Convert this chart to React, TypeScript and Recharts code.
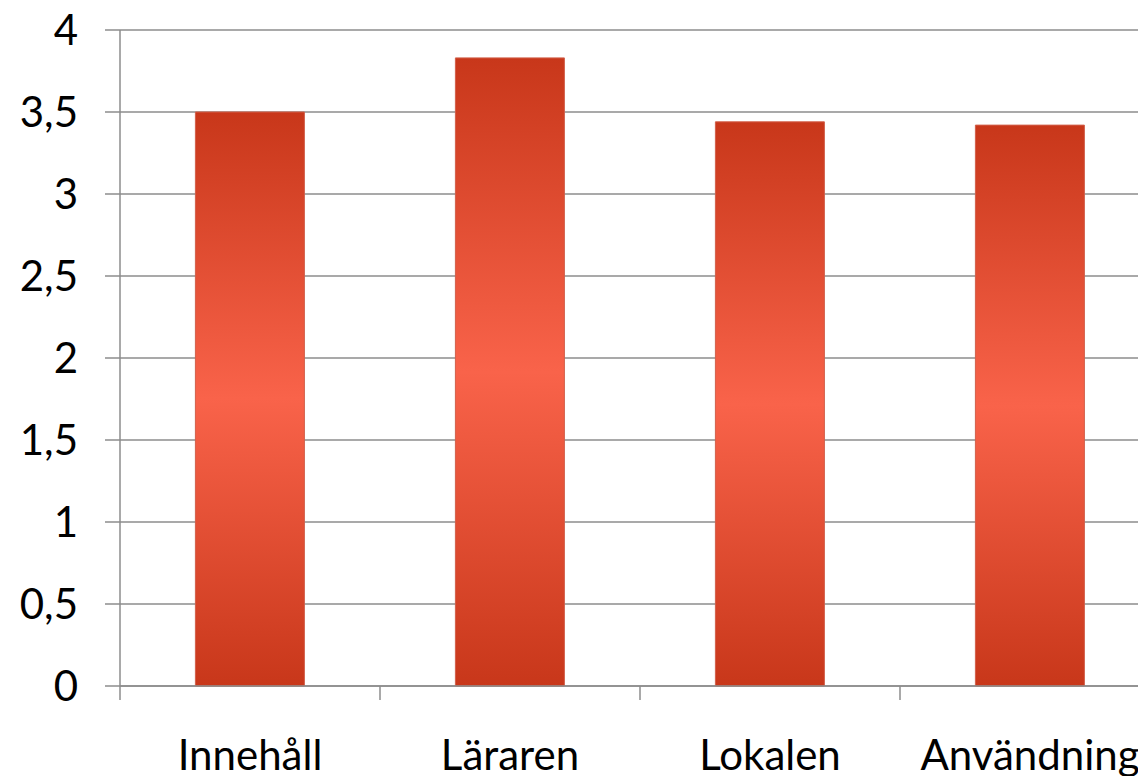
import { BarChart, Bar, XAxis, YAxis, CartesianGrid } from "recharts";

const categories = ["Innehåll", "Läraren", "Lokalen", "Användning"];
const scores = [3.5, 3.83, 3.44, 3.42];
const yTicks = [0, 0.5, 1, 1.5, 2, 2.5, 3, 3.5, 4];

const data = categories.map((name, i) => ({ name, value: scores[i] }));

const FONT = "Lato, 'Open Sans', sans-serif";
const GRID = "#8c8c8c";

// category label at band centre + tick mark at the left band boundary
const CategoryTick = ({ x, y, payload, width, visibleTicksCount }: any) => {
  const half = width / (visibleTicksCount || 4) / 2;
  return (
    <g>
      <line x1={x - half} x2={x - half} y1={y - 14} y2={y} stroke={GRID} strokeWidth={1.5} />
      <text x={x} y={y + 70} textAnchor="middle" fontSize={42} fontFamily={FONT} fill="#000">
        {payload.value}
      </text>
    </g>
  );
};

export default function App() {
  return (
    <div style={{ margin: -8, width: 1146, height: 784, overflow: "hidden", background: "#fff" }}>
      <BarChart width={1160} height={784} data={data} margin={{ top: 30, right: 0, bottom: 0, left: 8 }} barCategoryGap="29%">
        <defs>
          <linearGradient id="barFill" x1="0" y1="0" x2="0" y2="1">
            <stop offset="0%" stopColor="#c8371a" />
            <stop offset="50%" stopColor="#f9634a" />
            <stop offset="100%" stopColor="#c8371a" />
          </linearGradient>
        </defs>
        <CartesianGrid vertical={false} stroke={GRID} strokeWidth={1.5} />
        <XAxis
          dataKey="name"
          height={98}
          axisLine={{ stroke: GRID, strokeWidth: 1.5 }}
          tickLine={false}
          tickSize={14}
          tickMargin={0}
          interval={0}
          tick={<CategoryTick />}
        />
        <YAxis
          domain={[0, 4]}
          ticks={yTicks}
          width={112}
          interval={0}
          axisLine={{ stroke: GRID, strokeWidth: 1.5 }}
          tickLine={{ stroke: GRID, strokeWidth: 1.5 }}
          tickSize={15}
          tickMargin={27}
          tickFormatter={(v: number) => String(v).replace(".", ",")}
          tick={{ fill: "#000", fontSize: 42, fontFamily: FONT }}
        />
        <Bar dataKey="value" fill="url(#barFill)" stroke="#d2604a" strokeWidth={1} isAnimationActive={false} />
      </BarChart>
    </div>
  );
}
